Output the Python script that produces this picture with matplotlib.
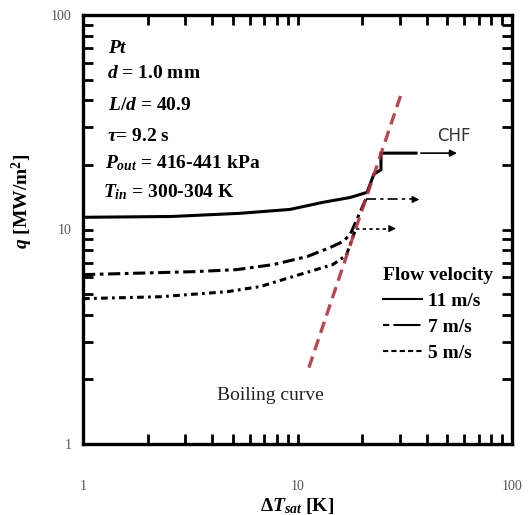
import matplotlib
matplotlib.use("Agg")
import matplotlib.pyplot as plt
from matplotlib.lines import Line2D

plt.rcParams["font.family"] = ["Liberation Serif", "DejaVu Serif"]
plt.rcParams["mathtext.fontset"] = "custom"
plt.rcParams["mathtext.rm"] = "Liberation Serif:bold"
plt.rcParams["mathtext.it"] = "Liberation Serif:italic:bold"
plt.rcParams["mathtext.bf"] = "Liberation Serif:bold"

# boiling curves, heat flux q [MW/m2] against wall superheat dT_sat [K]
dt_11 = [1.0, 2.6, 5.4, 9.2, 13.2, 17.6, 21.1, 22.7, 24.5, 24.5, 35.7]
q_11 = [11.4, 11.5, 11.9, 12.4, 13.4, 14.1, 14.9, 18.1, 19.0, 22.7, 22.7]

dt_7 = [1.0, 3.3, 5.2, 7.7, 11.1, 14.2, 16.3, 17.6, 20.8]
q_7 = [6.16, 6.36, 6.50, 6.86, 7.48, 8.24, 8.79, 9.48, 13.8]

dt_5 = [1.0, 2.3, 4.7, 6.7, 9.2, 14.6, 15.8, 16.9, 18.7]
q_5 = [4.76, 4.86, 5.13, 5.42, 5.97, 6.86, 7.24, 7.6, 10.1]

# horizontal run-out past the last point (arrow ends)
end_7 = 37.0
end_5 = 28.8
chf_arrow = [37.6, 55.4]

# fully developed nucleate boiling line (q ~ dT^3)
dt_bc = [11.3, 30.4]
q_bc = [2.27, 42.7]

style_7 = (0, (4, 1.5, 1.2, 1.5))
style_5 = (0, (2.2, 1.4, 0.9, 1.4))

fig = plt.figure(figsize=(5.28, 5.15), dpi=100)
ax = fig.add_axes([83 / 528, 1 - 444 / 515, (512 - 83) / 528, (444 - 15) / 515])
ax.set_xscale("log")
ax.set_yscale("log")
ax.set_xlim(1, 100)
ax.set_ylim(1, 100)

lw = 2.2
ax.plot(dt_11, q_11, color="k", lw=lw, solid_joinstyle="miter")
ax.plot(dt_7, q_7, color="k", lw=lw, linestyle=style_7)
ax.plot(dt_5, q_5, color="k", lw=lw, linestyle=style_5)

# run-out lines with arrow heads
ax.plot([dt_7[-1], end_7 * 0.95], [q_7[-1], q_7[-1]], color="k", lw=1.2,
        linestyle=(0, (6, 2.5, 2, 2.5)))
ax.annotate("", xy=(end_7, q_7[-1]), xytext=(end_7 * 0.93, q_7[-1]),
            arrowprops=dict(arrowstyle="-|>", color="k", lw=1.0,
                            mutation_scale=10, shrinkA=0, shrinkB=0))
ax.plot([dt_5[-1], end_5 * 0.95], [q_5[-1], q_5[-1]], color="k", lw=1.2,
        linestyle=(0, (2, 2)))
ax.annotate("", xy=(end_5, q_5[-1]), xytext=(end_5 * 0.93, q_5[-1]),
            arrowprops=dict(arrowstyle="-|>", color="k", lw=1.0,
                            mutation_scale=10, shrinkA=0, shrinkB=0))
ax.annotate("", xy=(chf_arrow[1], q_11[-1]), xytext=(chf_arrow[0], q_11[-1]),
            arrowprops=dict(arrowstyle="-|>", color="k", lw=1.2,
                            mutation_scale=10, shrinkA=0, shrinkB=0))

ax.plot(dt_bc, q_bc, color="#b3343f", lw=2.4, linestyle=(0, (3.5, 2)), alpha=0.9)

ax.text(44.7, 27.2, "CHF", family="DejaVu Sans", fontsize=12, color="#333333",
        ha="left", va="center")
ax.text(4.21, 1.69, "Boiling curve", fontsize=14, color="#222222",
        ha="left", va="center")

# test conditions
conds = [
    (0.058, 0.911, r"$Pt$"),
    (0.056, 0.853, r"$d$ = 1.0 mm"),
    (0.058, 0.778, r"$L/d$ = 40.9"),
    (0.056, 0.706, r"$\tau$= 9.2 s"),
    (0.051, 0.643, r"$P_{out}$ = 416-441 kPa"),
    (0.047, 0.575, r"$T_{in}$ = 300-304 K"),
]
for x, y, s in conds:
    ax.text(x, y, s, transform=ax.transAxes, fontsize=14, fontweight="bold",
            ha="left", va="baseline")

handles = [
    Line2D([], [], color="k", lw=1.5),
    Line2D([], [], color="k", lw=1.5, linestyle=(0, (3, 2, 10, 0))),
    Line2D([], [], color="k", lw=1.5, linestyle=(0, (2.5, 1.5))),
]
leg = ax.legend(handles, ["11 m/s", "7 m/s", "5 m/s"], title="Flow velocity",
                loc="upper left", bbox_to_anchor=(0.699, 0.412), frameon=False,
                borderpad=0, borderaxespad=0, handlelength=2.0,
                handletextpad=0.3, labelspacing=0.42, alignment="left",
                prop=dict(family="Liberation Serif", weight="bold", size=14),
                title_fontproperties=dict(family="Liberation Serif",
                                          weight="bold", size=14))

ax.set_xticks([1, 10, 100])
ax.set_xticklabels(["1", "10", "100"])
ax.set_yticks([1, 10, 100])
ax.set_yticklabels(["1", "10", "100"])
ax.tick_params(which="both", direction="in", top=True, right=True,
               length=7, width=2, labelsize=10, labelcolor="#555555")
ax.tick_params(axis="x", which="major", pad=26)
ax.tick_params(axis="y", which="major", pad=8)
for sp in ax.spines.values():
    sp.set_linewidth(2.4)

ax.set_xlabel(r"$\mathrm{\Delta}T_{sat}$ [K]", fontsize=14, fontweight="bold",
              labelpad=2)
ax.set_ylabel(r"$q$ [MW/m$^{2}$]", fontsize=14, fontweight="bold")
ax.yaxis.set_label_coords(-0.112, 0.565)

fig.savefig("out.png", dpi=100)
